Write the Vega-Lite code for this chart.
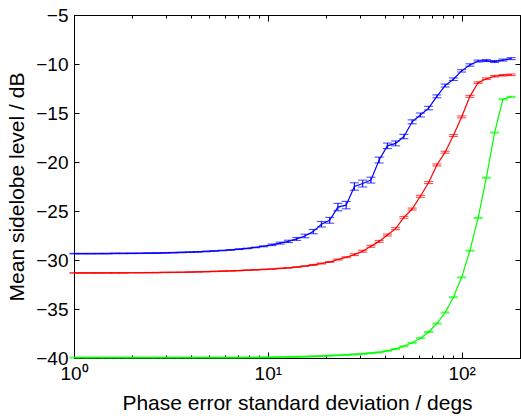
{
  "$schema": "https://vega.github.io/schema/vega-lite/v6.json",
  "width": 446,
  "height": 343,
  "autosize": {"type": "none"},
  "padding": {"left": 74, "top": 15, "right": 1, "bottom": 61},
  "config": {
    "font": "Liberation Sans",
    "view": {"stroke": "black", "strokeWidth": 1},
    "axis": {"grid": false, "domainColor": "black", "tickColor": "black", "labelColor": "black", "titleColor": "black", "titleFontWeight": "normal", "labelFont": "Liberation Sans", "titleFont": "Liberation Sans"}
  },
  "data": {"values": [
    {"s":"b","x":1,"y":-29.35,"e":0.03},{"s":"b","x":1.103,"y":-29.35,"e":0.03},{"s":"b","x":1.216,"y":-29.35,"e":0.03},{"s":"b","x":1.342,"y":-29.34,"e":0.03},{"s":"b","x":1.48,"y":-29.34,"e":0.03},{"s":"b","x":1.632,"y":-29.33,"e":0.03},{"s":"b","x":1.8,"y":-29.33,"e":0.03},{"s":"b","x":1.986,"y":-29.32,"e":0.03},{"s":"b","x":2.19,"y":-29.31,"e":0.03},{"s":"b","x":2.415,"y":-29.3,"e":0.03},{"s":"b","x":2.665,"y":-29.29,"e":0.03},{"s":"b","x":2.939,"y":-29.27,"e":0.03},{"s":"b","x":3.241,"y":-29.25,"e":0.03},{"s":"b","x":3.575,"y":-29.23,"e":0.03},{"s":"b","x":3.943,"y":-29.2,"e":0.03},{"s":"b","x":4.349,"y":-29.17,"e":0.03},{"s":"b","x":4.796,"y":-29.13,"e":0.03},{"s":"b","x":5.29,"y":-29.08,"e":0.03},{"s":"b","x":5.834,"y":-29.03,"e":0.03},{"s":"b","x":6.435,"y":-28.97,"e":0.03},{"s":"b","x":7.096,"y":-28.9,"e":0.03},{"s":"b","x":7.827,"y":-28.82,"e":0.03},{"s":"b","x":8.633,"y":-28.72,"e":0.03},{"s":"b","x":9.52,"y":-28.6,"e":0.05},{"s":"b","x":10.5,"y":-28.45,"e":0.08},{"s":"b","x":11.58,"y":-28.28,"e":0.1},{"s":"b","x":12.77,"y":-28.1,"e":0.12},{"s":"b","x":14.09,"y":-27.85,"e":0.15},{"s":"b","x":15.54,"y":-27.55,"e":0.18},{"s":"b","x":17.14,"y":-27.1,"e":0.22},{"s":"b","x":18.9,"y":-26.35,"e":0.28},{"s":"b","x":20.85,"y":-25.95,"e":0.3},{"s":"b","x":22.99,"y":-24.6,"e":0.38},{"s":"b","x":25.36,"y":-24.4,"e":0.38},{"s":"b","x":27.97,"y":-22.5,"e":0.38},{"s":"b","x":30.85,"y":-22.2,"e":0.35},{"s":"b","x":34.02,"y":-21.85,"e":0.3},{"s":"b","x":37.52,"y":-19.8,"e":0.3},{"s":"b","x":41.39,"y":-18.35,"e":0.28},{"s":"b","x":45.65,"y":-18.1,"e":0.25},{"s":"b","x":50.35,"y":-17.4,"e":0.22},{"s":"b","x":55.53,"y":-15.9,"e":0.2},{"s":"b","x":61.24,"y":-15.2,"e":0.2},{"s":"b","x":67.55,"y":-14.5,"e":0.18},{"s":"b","x":74.5,"y":-13.3,"e":0.15},{"s":"b","x":82.16,"y":-12.2,"e":0.15},{"s":"b","x":90.63,"y":-11.55,"e":0.13},{"s":"b","x":99.97,"y":-10.7,"e":0.12},{"s":"b","x":110.3,"y":-10.1,"e":0.12},{"s":"b","x":121.6,"y":-9.7,"e":0.1},{"s":"b","x":134.1,"y":-9.65,"e":0.1},{"s":"b","x":147.9,"y":-9.75,"e":0.1},{"s":"b","x":163.2,"y":-9.6,"e":0.1},{"s":"b","x":180,"y":-9.45,"e":0.1},
    {"s":"r","x":1,"y":-31.32,"e":0.02},{"s":"r","x":1.103,"y":-31.32,"e":0.02},{"s":"r","x":1.216,"y":-31.32,"e":0.02},{"s":"r","x":1.342,"y":-31.32,"e":0.02},{"s":"r","x":1.48,"y":-31.31,"e":0.02},{"s":"r","x":1.632,"y":-31.31,"e":0.02},{"s":"r","x":1.8,"y":-31.31,"e":0.02},{"s":"r","x":1.986,"y":-31.3,"e":0.02},{"s":"r","x":2.19,"y":-31.3,"e":0.02},{"s":"r","x":2.415,"y":-31.29,"e":0.02},{"s":"r","x":2.665,"y":-31.28,"e":0.02},{"s":"r","x":2.939,"y":-31.27,"e":0.02},{"s":"r","x":3.241,"y":-31.26,"e":0.02},{"s":"r","x":3.575,"y":-31.25,"e":0.02},{"s":"r","x":3.943,"y":-31.23,"e":0.02},{"s":"r","x":4.349,"y":-31.21,"e":0.02},{"s":"r","x":4.796,"y":-31.19,"e":0.02},{"s":"r","x":5.29,"y":-31.17,"e":0.02},{"s":"r","x":5.834,"y":-31.14,"e":0.02},{"s":"r","x":6.435,"y":-31.11,"e":0.02},{"s":"r","x":7.096,"y":-31.08,"e":0.02},{"s":"r","x":7.827,"y":-31.04,"e":0.02},{"s":"r","x":8.633,"y":-31.0,"e":0.02},{"s":"r","x":9.52,"y":-30.96,"e":0.02},{"s":"r","x":10.5,"y":-30.92,"e":0.02},{"s":"r","x":11.58,"y":-30.86,"e":0.02},{"s":"r","x":12.77,"y":-30.8,"e":0.02},{"s":"r","x":14.09,"y":-30.72,"e":0.02},{"s":"r","x":15.54,"y":-30.62,"e":0.02},{"s":"r","x":17.14,"y":-30.5,"e":0.05},{"s":"r","x":18.9,"y":-30.36,"e":0.05},{"s":"r","x":20.85,"y":-30.2,"e":0.05},{"s":"r","x":22.99,"y":-29.95,"e":0.05},{"s":"r","x":25.36,"y":-29.72,"e":0.05},{"s":"r","x":27.97,"y":-29.45,"e":0.1},{"s":"r","x":30.85,"y":-29.1,"e":0.1},{"s":"r","x":34.02,"y":-28.6,"e":0.1},{"s":"r","x":37.52,"y":-28.1,"e":0.1},{"s":"r","x":41.39,"y":-27.45,"e":0.1},{"s":"r","x":45.65,"y":-26.8,"e":0.1},{"s":"r","x":50.35,"y":-25.65,"e":0.1},{"s":"r","x":55.53,"y":-24.8,"e":0.1},{"s":"r","x":61.24,"y":-23.5,"e":0.1},{"s":"r","x":67.55,"y":-22.1,"e":0.1},{"s":"r","x":74.5,"y":-20.3,"e":0.1},{"s":"r","x":82.16,"y":-19.0,"e":0.1},{"s":"r","x":90.63,"y":-17.3,"e":0.1},{"s":"r","x":99.97,"y":-15.4,"e":0.1},{"s":"r","x":110.3,"y":-13.3,"e":0.1},{"s":"r","x":121.6,"y":-11.9,"e":0.08},{"s":"r","x":134.1,"y":-11.5,"e":0.08},{"s":"r","x":147.9,"y":-11.25,"e":0.08},{"s":"r","x":163.2,"y":-11.15,"e":0.08},{"s":"r","x":180,"y":-11.1,"e":0.08},
    {"s":"g","x":1,"y":-39.96,"e":0.05},{"s":"g","x":1.103,"y":-39.96,"e":0.05},{"s":"g","x":1.216,"y":-39.96,"e":0.05},{"s":"g","x":1.342,"y":-39.96,"e":0.05},{"s":"g","x":1.48,"y":-39.96,"e":0.05},{"s":"g","x":1.632,"y":-39.96,"e":0.05},{"s":"g","x":1.8,"y":-39.96,"e":0.05},{"s":"g","x":1.986,"y":-39.96,"e":0.05},{"s":"g","x":2.19,"y":-39.96,"e":0.05},{"s":"g","x":2.415,"y":-39.96,"e":0.05},{"s":"g","x":2.665,"y":-39.96,"e":0.05},{"s":"g","x":2.939,"y":-39.96,"e":0.05},{"s":"g","x":3.241,"y":-39.96,"e":0.05},{"s":"g","x":3.575,"y":-39.96,"e":0.05},{"s":"g","x":3.943,"y":-39.96,"e":0.05},{"s":"g","x":4.349,"y":-39.96,"e":0.05},{"s":"g","x":4.796,"y":-39.96,"e":0.05},{"s":"g","x":5.29,"y":-39.96,"e":0.05},{"s":"g","x":5.834,"y":-39.96,"e":0.05},{"s":"g","x":6.435,"y":-39.96,"e":0.05},{"s":"g","x":7.096,"y":-39.96,"e":0.05},{"s":"g","x":7.827,"y":-39.95,"e":0.05},{"s":"g","x":8.633,"y":-39.95,"e":0.05},{"s":"g","x":9.52,"y":-39.94,"e":0.05},{"s":"g","x":10.5,"y":-39.93,"e":0.05},{"s":"g","x":11.58,"y":-39.92,"e":0.05},{"s":"g","x":12.77,"y":-39.9,"e":0.05},{"s":"g","x":14.09,"y":-39.88,"e":0.05},{"s":"g","x":15.54,"y":-39.86,"e":0.05},{"s":"g","x":17.14,"y":-39.83,"e":0.05},{"s":"g","x":18.9,"y":-39.8,"e":0.05},{"s":"g","x":20.85,"y":-39.76,"e":0.05},{"s":"g","x":22.99,"y":-39.72,"e":0.05},{"s":"g","x":25.36,"y":-39.68,"e":0.05},{"s":"g","x":27.97,"y":-39.63,"e":0.05},{"s":"g","x":30.85,"y":-39.57,"e":0.05},{"s":"g","x":34.02,"y":-39.5,"e":0.05},{"s":"g","x":37.52,"y":-39.42,"e":0.05},{"s":"g","x":41.39,"y":-39.27,"e":0.05},{"s":"g","x":45.65,"y":-39.07,"e":0.05},{"s":"g","x":50.35,"y":-38.8,"e":0.05},{"s":"g","x":55.53,"y":-38.45,"e":0.05},{"s":"g","x":61.24,"y":-37.98,"e":0.05},{"s":"g","x":67.55,"y":-37.35,"e":0.05},{"s":"g","x":74.5,"y":-36.48,"e":0.05},{"s":"g","x":82.16,"y":-35.37,"e":0.05},{"s":"g","x":90.63,"y":-33.8,"e":0.05},{"s":"g","x":99.97,"y":-31.77,"e":0.05},{"s":"g","x":110.3,"y":-29.05,"e":0.05},{"s":"g","x":121.6,"y":-25.7,"e":0.05},{"s":"g","x":134.1,"y":-21.6,"e":0.05},{"s":"g","x":147.9,"y":-17.0,"e":0.05},{"s":"g","x":163.2,"y":-13.6,"e":0.05},{"s":"g","x":180,"y":-13.35,"e":0.05}
  ]},
  "layer": [
    {
      "mark": {"type": "line", "strokeWidth": 1.2, "clip": true},
      "encoding": {
        "x": {"field": "x", "type": "quantitative", "scale": {"type": "log", "domain": [1, 200], "nice": false},
          "axis": {"orient": "bottom", "values": [1,2,3,4,5,6,7,8,9,10,20,30,40,50,60,70,80,90,100,200],
            "labelExpr": "datum.value==1?'10⁰':datum.value==10?'10¹':datum.value==100?'10²':''",
            "tickSize": {"condition": {"test": "datum.value==1||datum.value==10||datum.value==100", "value": -6}, "value": -3},
            "labelOverlap": false, "labelFlush": false, "labelBound": false,
            "labelFontSize": 19, "labelPadding": 12, "title": "Phase error standard deviation / degs", "titleFontSize": 21, "titlePadding": 6}},
        "y": {"field": "y", "type": "quantitative", "scale": {"domain": [-40, -5], "nice": false, "zero": false},
          "axis": {"orient": "left", "values": [-40,-35,-30,-25,-20,-15,-10,-5], "tickSize": -5, "labelFontSize": 19, "labelPadding": 11,
            "title": "Mean sidelobe level / dB", "titleFontSize": 21, "titlePadding": 8}},
        "color": {"field": "s", "type": "nominal", "scale": {"domain": ["b", "r", "g"], "range": ["#0000ff", "#ff0000", "#00ff00"]}, "legend": null}
      }
    },
    {
      "mark": {"type": "errorbar", "ticks": true, "size": 9, "thickness": 1.1},
      "encoding": {
        "x": {"field": "x", "type": "quantitative", "scale": {"type": "log", "domain": [1, 200], "nice": false},
          "axis": {"orient": "top", "values": [1,2,3,4,5,6,7,8,9,10,20,30,40,50,60,70,80,90,100,200], "labels": false, "title": null,
            "tickSize": {"condition": {"test": "datum.value==1||datum.value==10||datum.value==100", "value": -6}, "value": -3}}},
        "y": {"field": "y", "type": "quantitative", "scale": {"domain": [-40, -5], "nice": false, "zero": false},
          "axis": {"orient": "right", "values": [-40,-35,-30,-25,-20,-15,-10,-5], "labels": false, "title": null, "tickSize": -5}},
        "yError": {"field": "e"},
        "color": {"field": "s", "type": "nominal", "scale": {"domain": ["b", "r", "g"], "range": ["#0000ff", "#ff0000", "#00ff00"]}, "legend": null}
      }
    }
  ],
  "resolve": {"axis": {"x": "independent", "y": "independent"}}
}
